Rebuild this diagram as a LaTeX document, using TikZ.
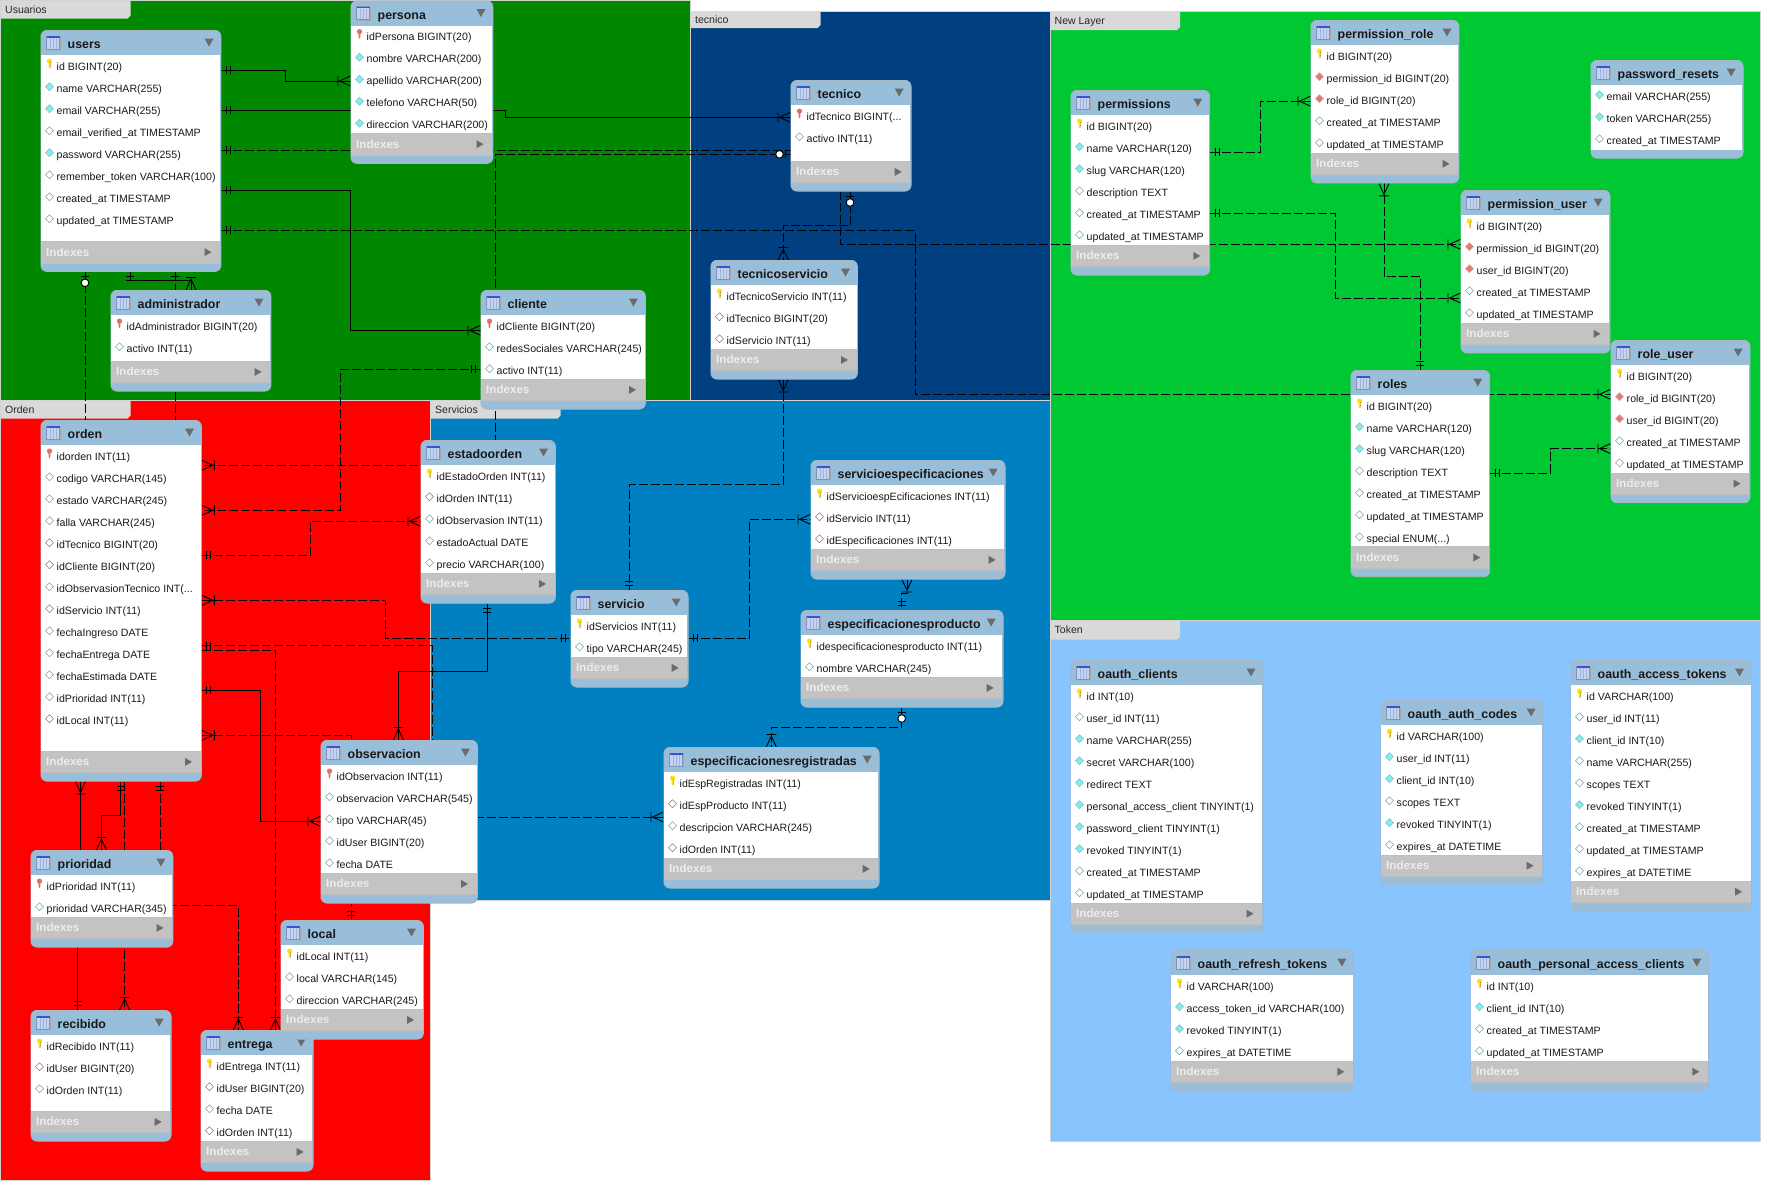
\documentclass[tikz,border=0pt]{standalone}
\usepackage{fontspec}
\setmainfont{Liberation Sans}
\pgfdeclarelayer{regions}
\pgfdeclarelayer{lines}
\pgfsetlayers{regions,lines,main}
\definecolor{hdr}{HTML}{99BEDA}
\definecolor{idxc}{HTML}{C3C3C3}
\definecolor{tabc}{HTML}{D9D9D9}
\definecolor{edgec}{HTML}{A9B7C2}
\definecolor{cUsu}{HTML}{008800}
\definecolor{cOrd}{HTML}{FF0000}
\definecolor{cSer}{HTML}{0080C0}
\definecolor{cTec}{HTML}{004080}
\definecolor{cNew}{HTML}{00C832}
\definecolor{cTok}{HTML}{8AC4FF}
\definecolor{tealc}{HTML}{5FB0B0}
\definecolor{cyanc}{HTML}{80EEF0}
\definecolor{redd}{HTML}{B86A6A}
\definecolor{redf}{HTML}{E07A72}
\definecolor{iconbody}{HTML}{C4D4F0}
\definecolor{iconline}{HTML}{9FB4DC}
\definecolor{iconedge}{HTML}{7F93BC}
\definecolor{icontop}{HTML}{3C50D2}
\newcommand{\ddd}{.{}.{}.}
\tikzset{
  x=1pt,y=-1pt,
  rowtext/.style={font=\fontsize{10.6}{13}\selectfont,inner sep=0pt,anchor=base west,text=black!90},
  titletext/.style={font=\bfseries\fontsize{12.4}{15}\selectfont,inner sep=0pt,anchor=base west,text=black!90},
  idxtext/.style={font=\bfseries\fontsize{11.6}{13}\selectfont,inner sep=0pt,anchor=base west,text=white!93!black},
  tabtext/.style={font=\fontsize{10.5}{12}\selectfont,inner sep=0pt,anchor=base west,text=black!85},
  tablebox/.style={draw=edgec,fill=hdr,rounded corners=6pt,inner sep=0pt,anchor=north west,line width=0.8pt},
  sconn/.style={draw=black,line width=0.9pt},
  dconn/.style={draw=black,line width=0.9pt,dash pattern=on 9pt off 3pt},
  mkone/.pic={\draw[solid,line width=0.9pt] (5,-4)--(5,4) (9,-4)--(9,4);},
  mkmany/.pic={\draw[solid,line width=0.9pt] (0,-5)--(11,0)--(0,5) (12.5,-5)--(12.5,5);},
  mkzero/.pic={\draw[solid,line width=0.9pt] (5,-4)--(5,4);\draw[solid,line width=0.9pt,fill=white] (11,0) circle (3.8);},
  iconk/.pic={\fill[yellow!85!orange] (-1.2,-3) -- (1.2,-3) -- (0.6,3.5) -- (-0.6,3.5) -- cycle (0,-3.6) circle (2.6);\draw[orange!70!black,line width=0.3pt] (1.2,-3) -- (0.6,3.5);},
  iconr/.pic={\fill[redf!90!red] (-1.2,-3) -- (1.2,-3) -- (0.6,3.5) -- (-0.6,3.5) -- cycle (0,-3.6) circle (2.6);},
  iconc/.pic={\draw[fill=cyanc,draw=tealc!80,line width=0.6pt] (-4,0)--(0,-4)--(4,0)--(0,4)--cycle;},
  iconw/.pic={\draw[fill=white,draw=tealc,line width=0.6pt] (-4,0)--(0,-4)--(4,0)--(0,4)--cycle;},
  iconf/.pic={\draw[fill=redf,draw=redd!60,line width=0.6pt] (-4,0)--(0,-4)--(4,0)--(0,4)--cycle;},
  icond/.pic={\draw[fill=white,draw=redd,line width=0.6pt] (-4,0)--(0,-4)--(4,0)--(0,4)--cycle;},
  tblicon/.pic={\fill[black!35] (1,1) rectangle (14,14);
    \fill[iconbody] (0,0) rectangle (13,13);
    \draw[iconline,line width=0.5pt] (3.5,2)--(3.5,13) (6.5,2)--(6.5,13) (9.5,2)--(9.5,13);
    \draw[iconedge,line width=0.4pt] (0,0) rectangle (13,13);
    \fill[icontop] (0,0) rectangle (13,1.8);},
}
\newcommand{\ertbody}[6]{%
  \pic at (#2+6,#4+6) {tblicon};
  \fill[black!58] (#3-16,#4+8.5) -- (#3-7,#4+8.5) -- (#3-11.5,#4+16.5) -- cycle;
  \node[titletext] (#1-title) at (#2+27,#4+18.5) {#5};
  \foreach \ic/\tx [count=\ri from 0] in {#6} {
    \pgfmathsetmacro\rowy{#4+36+22*\ri}
    \pic at (#2+9,\rowy-1.3) {icon\ic};
    \node[rowtext] (#1-r\ri) at (#2+16,\rowy+4) {\tx};
  }%
}
\newcommand{\ertab}[7]{%
  \pgfmathsetmacro\ertW{#3-#2}\pgfmathsetmacro\ertH{#5-#4}%
  \node[tablebox,minimum width=\ertW,minimum height=\ertH] (#1) at (#2,#4) {};
  \fill[white] (#2+0.4,#4+25) rectangle (#3-0.4,#5-29.5);
  \fill[idxc] (#2+0.4,#5-29.5) rectangle (#3-0.4,#5-8);
  \draw[black!25,line width=0.7pt] (#2+0.4,#5-29.5) -- (#3-0.4,#5-29.5) (#2+0.4,#5-8) -- (#3-0.4,#5-8);
  \fill[black!58] (#3-16,#5-22.8) -- (#3-16,#5-14.8) -- (#3-9,#5-18.8) -- cycle;
  \node[idxtext] (#1-idx) at (#2+5.5,#5-14.8) {Indexes};
  \ertbody{#1}{#2}{#3}{#4}{#6}{#7}%
}
\newcommand{\ertabnoidx}[7]{%
  \pgfmathsetmacro\ertW{#3-#2}\pgfmathsetmacro\ertH{#5-#4}%
  \node[tablebox,minimum width=\ertW,minimum height=\ertH] (#1) at (#2,#4) {};
  \fill[white] (#2+0.4,#4+25) rectangle (#3-0.4,#5-8);
  \ertbody{#1}{#2}{#3}{#4}{#6}{#7}%
}
\newcommand{\regiontab}[5]{% colour x0 y0 x1 y1
  \fill[#1] (#2,#3) rectangle (#4,#5);
  \draw[black!18,line width=0.8pt] (#2,#3) rectangle (#4,#5);
}
\newcommand{\labeltab}[5]{% id x y h text
  \fill[tabc] (#2,#3) -- (#2+130,#3) -- (#2+130,#3+#4-3) -- (#2+127,#3+#4) -- (#2,#3+#4) -- cycle;
  \node[tabtext] (#1) at (#2+4.5,#3+#4/2+3.5) {#5};
}
\begin{document}
\begin{tikzpicture}
\useasboundingbox (0,0) rectangle (1780,1200);
\begin{pgfonlayer}{regions}
  \fill[white] (0,0) rectangle (1780,1200);
  \regiontab{cTec}{690.5}{11}{1050}{400}
  \regiontab{cNew}{1050}{11}{1760}{620}
  \regiontab{cTok}{1050}{620}{1760}{1141}
  \regiontab{cSer}{430.5}{400}{1050}{900}
  \regiontab{cUsu}{0.5}{0.5}{690.5}{400}
  \regiontab{cOrd}{0.5}{400}{430.5}{1180}
  \labeltab{labUsu}{0.5}{0.5}{18}{Usuarios}
  \labeltab{labOrd}{0.5}{400.5}{18}{Orden}
  \labeltab{labSer}{430.5}{400.5}{18}{Servicios}
  \labeltab{labTec}{690.5}{11}{17}{tecnico}
  \labeltab{labNew}{1050}{11}{19}{New Layer}
  \labeltab{labTok}{1050}{620.5}{19}{Token}
\end{pgfonlayer}

\ertab{users}{40.5}{220.5}{30}{271}{users}{k/id BIGINT(20),c/name VARCHAR(255),c/email VARCHAR(255),w/email\_verified\_at TIMESTAMP,c/password VARCHAR(255),w/remember\_token VARCHAR(100),w/created\_at TIMESTAMP,w/updated\_at TIMESTAMP}
\ertab{persona}{350.5}{492.5}{0.5}{163}{persona}{r/idPersona BIGINT(20),c/nombre VARCHAR(200),c/apellido VARCHAR(200),c/telefono VARCHAR(50),c/direccion VARCHAR(200)}
\ertab{administrador}{110.5}{270.5}{290}{390.7}{administrador}{r/idAdministrador BIGINT(20),w/activo INT(11)}
\ertab{cliente}{480.5}{645}{290}{408.7}{cliente}{r/idCliente BIGINT(20),w/redesSociales VARCHAR(245),w/activo INT(11)}
\ertab{orden}{40.5}{201}{420}{780.7}{orden}{r/idorden INT(11),w/codigo VARCHAR(145),w/estado VARCHAR(245),w/falla VARCHAR(245),d/idTecnico BIGINT(20),d/idCliente BIGINT(20),w/idObservasionTecnico INT(\ddd,d/idServicio INT(11),w/fechaIngreso DATE,w/fechaEntrega DATE,w/fechaEstimada DATE,w/idPrioridad INT(11),d/idLocal INT(11)}
\ertab{estadoorden}{420.5}{555}{440}{602.7}{estadoorden}{k/idEstadoOrden INT(11),d/idOrden INT(11),w/idObservasion INT(11),w/estadoActual DATE,w/precio VARCHAR(100)}
\ertab{observacion}{320.5}{477}{740}{902.7}{observacion}{r/idObservacion INT(11),w/observacion VARCHAR(545),w/tipo VARCHAR(45),w/idUser BIGINT(20),w/fecha DATE}
\ertab{prioridad}{30.5}{172.5}{850}{946.7}{prioridad}{r/idPrioridad INT(11),w/prioridad VARCHAR(345)}
\ertab{recibido}{30.5}{170.7}{1010}{1140.7}{recibido}{k/idRecibido INT(11),d/idUser BIGINT(20),w/idOrden INT(11)}
\ertab{entrega}{200.5}{312.7}{1030}{1170.7}{entrega}{k/idEntrega INT(11),d/idUser BIGINT(20),w/fecha DATE,d/idOrden INT(11)}
\ertab{local}{280.5}{423}{920}{1038.7}{local}{k/idLocal INT(11),w/local VARCHAR(145),w/direccion VARCHAR(245)}
\ertab{servicio}{570.5}{687.7}{590}{686.7}{servicio}{k/idServicios INT(11),w/tipo VARCHAR(245)}
\ertab{servesp}{810.5}{1004.7}{460}{578.7}{servicioespecificaciones}{k/idServicioespEcificaciones INT(11),d/idServicio INT(11),d/idEspecificaciones INT(11)}
\ertab{espprod}{800.5}{1002.7}{610}{706.7}{especificacionesproducto}{k/idespecificacionesproducto INT(11),w/nombre VARCHAR(245)}
\ertab{espreg}{663.5}{878.7}{747}{887.7}{especificacionesregistradas}{k/idEspRegistradas INT(11),d/idEspProducto INT(11),w/descripcion VARCHAR(245),d/idOrden INT(11)}
\ertab{tecnico}{790.5}{910.7}{80}{190.7}{tecnico}{r/idTecnico BIGINT(\ddd,w/activo INT(11)}
\ertab{tecserv}{710.5}{857}{260}{378.7}{tecnicoservicio}{k/idTecnicoServicio INT(11),d/idTecnico BIGINT(20),d/idServicio INT(11)}
\ertab{permissions}{1070.5}{1209.3}{90}{274.7}{permissions}{k/id BIGINT(20),c/name VARCHAR(120),c/slug VARCHAR(120),w/description TEXT,w/created\_at TIMESTAMP,w/updated\_at TIMESTAMP}
\ertab{permrole}{1310.5}{1458.5}{20}{182.6}{permission\_role}{k/id BIGINT(20),f/permission\_id BIGINT(20),f/role\_id BIGINT(20),w/created\_at TIMESTAMP,w/updated\_at TIMESTAMP}
\ertabnoidx{pwreset}{1590.5}{1742.7}{60}{157.7}{password\_resets}{c/email VARCHAR(255),c/token VARCHAR(255),w/created\_at TIMESTAMP}
\ertab{permuser}{1460.5}{1609.6}{190}{352.6}{permission\_user}{k/id BIGINT(20),f/permission\_id BIGINT(20),f/user\_id BIGINT(20),w/created\_at TIMESTAMP,w/updated\_at TIMESTAMP}
\ertab{roleuser}{1610.5}{1749.6}{340}{502.4}{role\_user}{k/id BIGINT(20),f/role\_id BIGINT(20),f/user\_id BIGINT(20),w/created\_at TIMESTAMP,w/updated\_at TIMESTAMP}
\ertab{roles}{1350.5}{1489.3}{370}{576.3}{roles}{k/id BIGINT(20),c/name VARCHAR(120),c/slug VARCHAR(120),w/description TEXT,w/created\_at TIMESTAMP,w/updated\_at TIMESTAMP,w/special ENUM(\ddd)}
\ertab{oclients}{1070.5}{1262.5}{660}{932.5}{oauth\_clients}{k/id INT(10),w/user\_id INT(11),c/name VARCHAR(255),c/secret VARCHAR(100),c/redirect TEXT,c/personal\_access\_client TINYINT(1),c/password\_client TINYINT(1),c/revoked TINYINT(1),w/created\_at TIMESTAMP,w/updated\_at TIMESTAMP}
\ertab{ocodes}{1380.5}{1542.6}{700}{884.5}{oauth\_auth\_codes}{k/id VARCHAR(100),c/user\_id INT(11),c/client\_id INT(10),w/scopes TEXT,c/revoked TINYINT(1),w/expires\_at DATETIME}
\ertab{oaccess}{1570.5}{1751}{660}{910.5}{oauth\_access\_tokens}{k/id VARCHAR(100),w/user\_id INT(11),c/client\_id INT(10),w/name VARCHAR(255),w/scopes TEXT,c/revoked TINYINT(1),w/created\_at TIMESTAMP,w/updated\_at TIMESTAMP,w/expires\_at DATETIME}
\ertab{orefresh}{1170.5}{1353.4}{950}{1090.5}{oauth\_refresh\_tokens}{k/id VARCHAR(100),c/access\_token\_id VARCHAR(100),c/revoked TINYINT(1),w/expires\_at DATETIME}
\ertab{opersonal}{1470.5}{1708.3}{950}{1090.5}{oauth\_personal\_access\_clients}{k/id INT(10),c/client\_id INT(10),w/created\_at TIMESTAMP,w/updated\_at TIMESTAMP}

\begin{pgfonlayer}{lines}
% users
\draw[sconn] (users.east |- 0,70.3) pic{mkone} -- (285.7,70.3) -- (285.7,81) -- (persona.west |- 0,81) pic[rotate=180]{mkmany};
\draw[sconn] (users.east |- 0,110.3) pic{mkone} -- (505,110.3) -- (505,117.3) -- (tecnico.west |- 0,117.3) pic[rotate=180]{mkmany};
\draw[dconn] (users.east |- 0,150.3) pic{mkone} -- (840.5,150.3) -- (840.5,244.3) -- (permuser.west |- 0,244.3) pic[rotate=180]{mkmany};
\draw[sconn] (users.east |- 0,190.3) pic{mkone} -- (350.5,190.3) -- (350.5,330.3) -- (cliente.west |- 0,330.3) pic[rotate=180]{mkmany};
\draw[dconn] (users.east |- 0,230.3) pic{mkone} -- (915,230.3) -- (915,394.3) -- (roleuser.west |- 0,394.3) pic[rotate=180]{mkmany};
\draw[dconn] (85,0 |- users.south) pic[rotate=270]{mkzero} -- (85,0 |- orden.north);
\draw[sconn] (130,0 |- users.south) pic[rotate=270]{mkone} -- (130,280.3) -- (191,280.3) -- (191,0 |- administrador.north) pic[rotate=90]{mkmany};
\draw[dconn] (175,0 |- users.south) pic[rotate=270]{mkone} -- (175,0 |- orden.north);
% tecnico, cliente -> orden
\draw[dconn] (tecnico.west |- 0,154.3) pic[rotate=180]{mkzero} -- (495.5,154.3) -- (495.5,465.3) -- (orden.east |- 0,465.3) pic{mkmany};
\draw[dconn] (cliente.west |- 0,369.3) pic[rotate=180]{mkone} -- (340.6,369.3) -- (340.6,510.3) -- (orden.east |- 0,510.3) pic{mkmany};
% orden right side
\draw[dconn] (orden.east |- 0,555.3) pic{mkone} -- (310.4,555.3) -- (310.4,521.3) -- (estadoorden.west |- 0,521.3) pic[rotate=180]{mkmany};
\draw[dconn] (orden.east |- 0,600.3) pic{mkmany} -- (385.8,600.3) -- (385.8,638.3) -- (servicio.west |- 0,638.3) pic[rotate=180]{mkone};
\draw[dconn] (orden.east |- 0,645.7) pic{mkone} -- (432.4,645.7) -- (432.4,817) -- (espreg.west |- 0,817) pic[rotate=180]{mkmany};
\draw[dconn] (orden.east |- 0,650.3) -- (275.5,650.3) -- (275.5,0 |- entrega.north) pic[rotate=90]{mkmany};
\draw[sconn] (orden.east |- 0,690.3) pic{mkone} -- (260.6,690.3) -- (260.6,821.3) -- (observacion.west |- 0,821.3) pic[rotate=180]{mkmany};
\draw[dconn] (orden.east |- 0,735.3) pic{mkmany} -- (351.3,735.3) -- (351.3,0 |- local.north) pic[rotate=90]{mkone};
\draw[sconn] (487,0 |- estadoorden.south) pic[rotate=270]{mkone} -- (487,671.7) -- (398.4,671.7) -- (398.4,0 |- observacion.north) pic[rotate=90]{mkmany};
% orden bottom
\draw[sconn] (80.4,0 |- orden.south) pic[rotate=270]{mkmany} -- (80.4,860) -- (77.7,860) -- (77.7,0 |- recibido.north) pic[rotate=90]{mkone};
\draw[sconn] (120.5,0 |- orden.south) pic[rotate=270]{mkone} -- (120.5,815.3) -- (101.4,815.3) -- (101.4,0 |- prioridad.north) pic[rotate=90]{mkmany};
\draw[dconn] (124.6,0 |- orden.south) -- (124.6,0 |- recibido.north) pic[rotate=90]{mkmany};
\draw[dconn] (160.4,0 |- orden.south) pic[rotate=270]{mkone} -- (160.4,905.7) -- (238.4,905.7) -- (238.4,0 |- entrega.north) pic[rotate=90]{mkmany};
% services
\draw[dconn] (783.3,0 |- tecserv.south) pic[rotate=270]{mkmany} -- (783.3,484.3) -- (629.3,484.3) -- (629.3,0 |- servicio.north) pic[rotate=90]{mkone};
\draw[dconn] (850,0 |- tecnico.south) pic[rotate=270]{mkzero} -- (850,225.3) -- (783.3,225.3) -- (783.3,0 |- tecserv.north) pic[rotate=90]{mkmany};
\draw[dconn] (servicio.east |- 0,638.3) pic{mkone} -- (749.3,638.3) -- (749.3,519.3) -- (servesp.west |- 0,519.3) pic[rotate=180]{mkmany};
\draw[dconn] (907,0 |- servesp.south) pic[rotate=270]{mkmany} -- (907,593.3) -- (901.7,593.3) -- (901.7,0 |- espprod.north) pic[rotate=90]{mkone};
\draw[dconn] (901.7,0 |- espprod.south) pic[rotate=270]{mkzero} -- (901.7,727.3) -- (771.3,727.3) -- (771.3,0 |- espreg.north) pic[rotate=90]{mkmany};
% permissions
\draw[dconn] (permissions.east |- 0,152.3) pic{mkone} -- (1260.6,152.3) -- (1260.6,101.2) -- (permrole.west |- 0,101.2) pic[rotate=180]{mkmany};
\draw[dconn] (permissions.east |- 0,213.4) pic{mkone} -- (1335.5,213.4) -- (1335.5,298) -- (permuser.west |- 0,298) pic[rotate=180]{mkmany};
\draw[dconn] (1384,0 |- permrole.south) pic[rotate=270]{mkmany} -- (1384,276.3) -- (1420.4,276.3) -- (1420.4,0 |- roles.north) pic[rotate=90]{mkone};
\draw[dconn] (roles.east |- 0,473) pic{mkone} -- (1550.3,473) -- (1550.3,448.6) -- (roleuser.west |- 0,448.6) pic[rotate=180]{mkmany};
\end{pgfonlayer}
\end{tikzpicture}
\end{document}
